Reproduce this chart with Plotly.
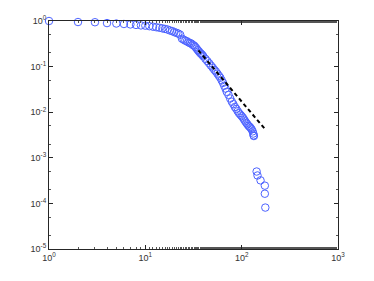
import plotly.graph_objects as go

x_vals = [1, 2, 3, 4, 5, 6, 7, 8, 9, 10, 11, 12, 13, 14, 15, 16, 17, 18, 19, 20,
          21, 22, 23, 24, 25, 26, 27, 28, 29, 30, 31, 32, 33, 34, 35, 36, 37, 38, 39, 40,
          42, 44, 46, 48, 50, 52, 54, 56, 58, 60, 62, 64, 66, 68, 70, 73, 76, 79, 82, 85,
          88, 91, 94, 97, 100, 103, 106, 109, 112, 115, 118, 121, 124, 127, 130, 132, 133, 134,
          143, 146, 157, 174, 174, 176]
y_vals = [1.0, 0.95, 0.94, 0.90, 0.88, 0.86, 0.84, 0.82, 0.80, 0.79, 0.77, 0.75, 0.73, 0.71, 0.69, 0.67, 0.65, 0.62, 0.60, 0.57,
          0.55, 0.53, 0.50, 0.41, 0.39, 0.37, 0.36, 0.34, 0.33, 0.32, 0.30, 0.29, 0.27, 0.25, 0.23, 0.215, 0.20, 0.19, 0.18, 0.168,
          0.148, 0.132, 0.118, 0.105, 0.095, 0.085, 0.078, 0.070, 0.063, 0.057, 0.050, 0.044, 0.038, 0.033, 0.028, 0.024, 0.020, 0.017, 0.015, 0.013,
          0.0118, 0.0105, 0.0095, 0.0088, 0.0082, 0.0076, 0.0069, 0.0063, 0.0058, 0.0054, 0.0050, 0.0048, 0.0045, 0.0042, 0.0038, 0.0034, 0.0031, 0.0030,
          5.0e-4, 4.1e-4, 3.2e-4, 2.45e-4, 1.63e-4, 8.1e-5]

# power-law fit (dashed)
fit_x = [35.5, 176.6]
fit_y = [0.227, 0.00414]

x_ticks = [1, 10, 100, 1000]
y_ticks = [1e-5, 1e-4, 1e-3, 1e-2, 1e-1, 1]
x_ticktext = ['10<sup>0</sup>', '10<sup>1</sup>', '10<sup>2</sup>', '10<sup>3</sup>']
y_ticktext = ['10<sup>-5</sup>', '10<sup>-4</sup>', '10<sup>-3</sup>', '10<sup>-2</sup>', '10<sup>-1</sup>', '10<sup>0</sup>']

fig = go.Figure()
fig.add_trace(go.Scatter(x=x_vals, y=y_vals, mode='markers', cliponaxis=False,
                         marker=dict(symbol='circle', size=7.5, color='rgba(0,0,0,0)',
                                     line=dict(width=1, color='#4d63ff'))))
fig.add_trace(go.Scatter(x=fit_x, y=fit_y, mode='lines',
                         line=dict(color='black', width=2, dash='4px,3px')))

axis_style = dict(showline=True, linecolor='#262626', linewidth=1, mirror='allticks',
                  ticks='inside', ticklen=4, tickcolor='#262626', showgrid=False, zeroline=False,
                  automargin=False,
                  tickfont=dict(family='Liberation Sans, Arial', size=9, color='#333333'),
                  minor=dict(ticks='inside', ticklen=2, tickcolor='#555555', showgrid=False))

fig.update_xaxes(type='log', range=[0, 3], tickvals=x_ticks, ticktext=x_ticktext, **axis_style)
fig.update_yaxes(type='log', range=[-5, 0], tickvals=y_ticks, ticktext=y_ticktext, **axis_style)

# the page body has an 8px margin, so the figure is shifted by that much
fig.update_layout(width=366, height=273, showlegend=False,
                  plot_bgcolor='white', paper_bgcolor='white',
                  margin=dict(l=41, r=36, t=13, b=32))

fig.write_html("out.html")
